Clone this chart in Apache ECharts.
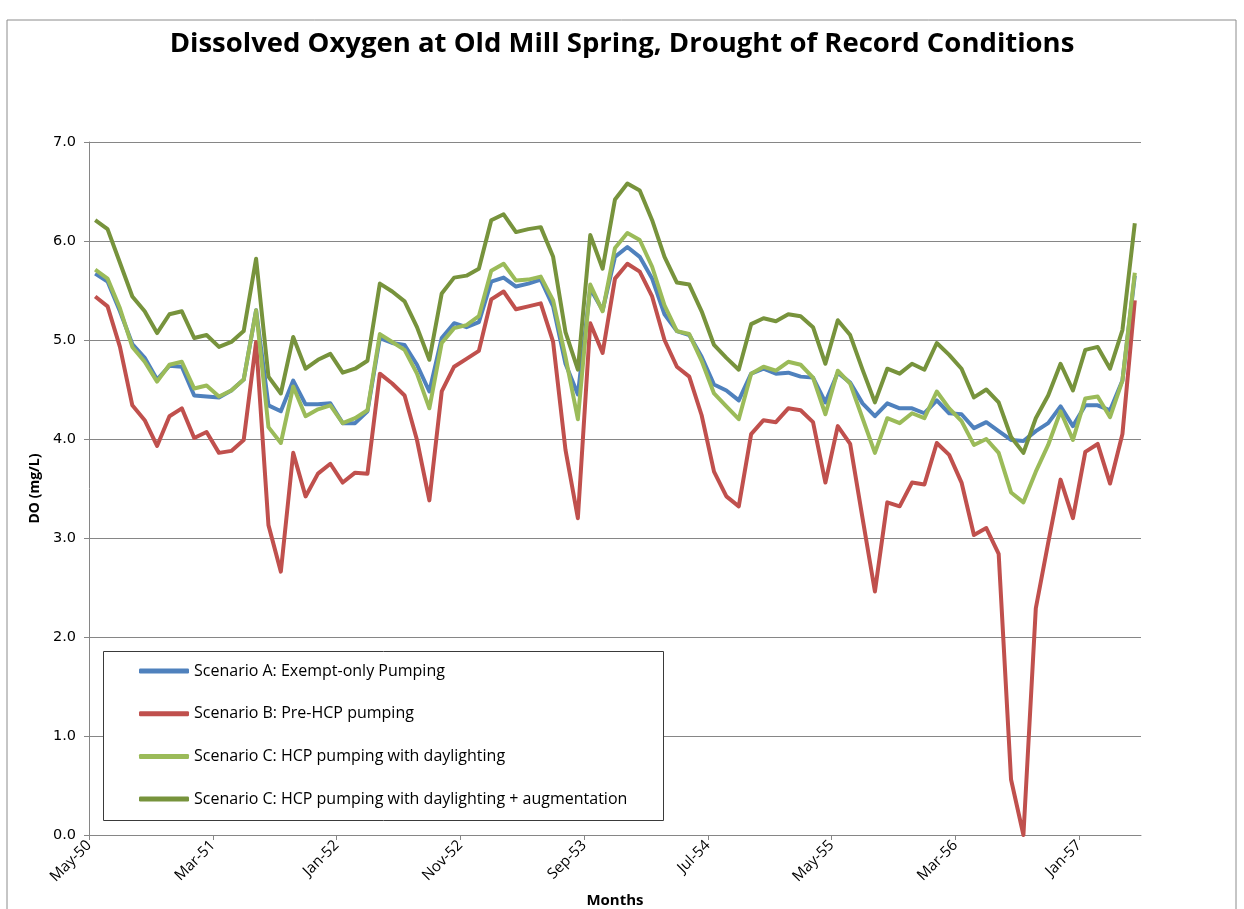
<!DOCTYPE html>
<html>
<head>
<meta charset="utf-8">
<title>Dissolved Oxygen at Old Mill Spring</title>
<script src="https://cdn.jsdelivr.net/npm/echarts@6/dist/echarts.min.js"></script>
<style>
  html, body { margin: 0; padding: 0; background: #fff; }
  #chart { width: 1244px; height: 909px; }
</style>
</head>
<body>
<div id="chart"></div>
<script>
// monthly DO values, May-50 .. May-57
const tickLabels = ['May-50', 'Mar-51', 'Jan-52', 'Nov-52', 'Sep-53', 'Jul-54', 'May-55', 'Mar-56', 'Jan-57'];

const scenarioA = [5.67, 5.59, 5.29, 4.96, 4.82, 4.60, 4.74, 4.73, 4.44, 4.43, 4.42, 4.49, 4.60, 5.30,
  4.34, 4.28, 4.59, 4.35, 4.35, 4.36, 4.16, 4.16, 4.28, 5.02, 4.97, 4.95, 4.75, 4.48,
  5.02, 5.17, 5.13, 5.18, 5.59, 5.63, 5.54, 5.57, 5.61, 5.34, 4.76, 4.45, 5.52, 5.30,
  5.84, 5.94, 5.84, 5.62, 5.26, 5.09, 5.05, 4.83, 4.55, 4.49, 4.39, 4.66, 4.71, 4.66,
  4.67, 4.63, 4.62, 4.37, 4.67, 4.57, 4.36, 4.23, 4.36, 4.31, 4.31, 4.26, 4.39, 4.26,
  4.25, 4.11, 4.17, 4.08, 3.99, 3.98, 4.08, 4.16, 4.33, 4.13, 4.34, 4.34, 4.29, 4.59, 5.65];

const scenarioB = [5.44, 5.34, 4.93, 4.34, 4.19, 3.93, 4.23, 4.31, 4.01, 4.07, 3.86, 3.88, 3.99, 4.98,
  3.13, 2.66, 3.86, 3.42, 3.65, 3.75, 3.56, 3.66, 3.65, 4.66, 4.56, 4.44, 3.99, 3.38,
  4.48, 4.73, 4.81, 4.89, 5.41, 5.49, 5.31, 5.34, 5.37, 4.98, 3.89, 3.20, 5.17, 4.87,
  5.62, 5.77, 5.69, 5.44, 5.00, 4.73, 4.63, 4.24, 3.67, 3.42, 3.32, 4.05, 4.19, 4.17,
  4.31, 4.29, 4.17, 3.56, 4.13, 3.95, 3.20, 2.46, 3.36, 3.32, 3.56, 3.54, 3.96, 3.84,
  3.56, 3.03, 3.10, 2.84, 0.56, 0.00, 2.29, 2.95, 3.59, 3.20, 3.87, 3.95, 3.55, 4.05, 5.40];

const scenarioC = [5.71, 5.62, 5.32, 4.93, 4.78, 4.58, 4.75, 4.78, 4.51, 4.54, 4.43, 4.49, 4.60, 5.30,
  4.12, 3.96, 4.53, 4.23, 4.30, 4.34, 4.16, 4.21, 4.29, 5.06, 4.98, 4.90, 4.66, 4.31,
  4.97, 5.12, 5.15, 5.24, 5.70, 5.77, 5.60, 5.61, 5.64, 5.40, 4.83, 4.20, 5.56, 5.29,
  5.93, 6.08, 6.01, 5.74, 5.35, 5.09, 5.06, 4.79, 4.46, 4.33, 4.20, 4.66, 4.73, 4.69,
  4.78, 4.75, 4.62, 4.25, 4.69, 4.56, 4.21, 3.86, 4.21, 4.16, 4.26, 4.21, 4.48, 4.31,
  4.18, 3.94, 4.00, 3.86, 3.46, 3.36, 3.67, 3.94, 4.28, 3.99, 4.41, 4.43, 4.22, 4.59, 5.68];

const scenarioD = [6.21, 6.12, 5.78, 5.44, 5.29, 5.07, 5.26, 5.29, 5.02, 5.05, 4.93, 4.98, 5.09, 5.82,
  4.63, 4.46, 5.03, 4.71, 4.80, 4.86, 4.67, 4.71, 4.79, 5.57, 5.49, 5.39, 5.13, 4.80,
  5.47, 5.63, 5.65, 5.72, 6.21, 6.27, 6.09, 6.12, 6.14, 5.84, 5.08, 4.70, 6.06, 5.72,
  6.42, 6.58, 6.51, 6.21, 5.84, 5.58, 5.56, 5.29, 4.95, 4.82, 4.70, 5.16, 5.22, 5.19,
  5.26, 5.24, 5.13, 4.76, 5.20, 5.05, 4.70, 4.37, 4.71, 4.66, 4.76, 4.70, 4.97, 4.85,
  4.71, 4.42, 4.50, 4.37, 4.02, 3.86, 4.21, 4.44, 4.76, 4.49, 4.90, 4.93, 4.71, 5.10, 6.18];

const seriesNames = [
  'Scenario A: Exempt-only Pumping',
  'Scenario B: Pre-HCP pumping',
  'Scenario C: HCP pumping with daylighting',
  'Scenario C: HCP pumping with daylighting + augmentation'
];
const colors = ['#4F81BD', '#C0504D', '#9BBB59', '#77933C'];

// points sit in the middle of each month (Excel "between tick marks")
const toPoints = arr => arr.map((v, i) => [i + 0.5, v]);

const chart = echarts.init(document.getElementById('chart'), null, { renderer: 'canvas' });

const option = {
  animation: false,
  backgroundColor: '#fff',
  title: {
    text: 'Dissolved Oxygen at Old Mill Spring, Drought of Record Conditions',
    left: 'center',
    top: 25,
    textStyle: { fontFamily: 'Open Sans', fontWeight: 'bold', fontSize: 27.5, color: '#000' }
  },
  grid: { left: 89, right: 103, top: 142, bottom: 74, outerBoundsMode: 'none', containLabel: false },
  legend: {
    orient: 'vertical',
    left: 134,
    top: 656,
    icon: 'roundRect',
    itemWidth: 50,
    itemHeight: 5,
    itemGap: 22.7,
    textStyle: { fontFamily: 'Open Sans', fontSize: 16, color: '#000', lineHeight: 20 },
    data: seriesNames,
    z: 5
  },
  xAxis: {
    type: 'value',
    min: 0,
    max: 85,
    interval: 10,
    name: 'Months',
    nameLocation: 'middle',
    nameGap: 58,
    nameTextStyle: { fontFamily: 'Open Sans', fontWeight: 'bold', fontSize: 15, color: '#000' },
    axisLine: { lineStyle: { color: '#868686', width: 1 } },
    axisTick: { show: true, length: 5, lineStyle: { color: '#868686' } },
    splitLine: { show: false },
    axisLabel: {
      rotate: 45,
      margin: 8,
      showMaxLabel: false,
      fontFamily: 'Open Sans',
      fontSize: 15,
      color: '#000',
      formatter: v => tickLabels[v / 10] || ''
    }
  },
  yAxis: {
    type: 'value',
    min: 0,
    max: 7,
    interval: 1,
    name: 'DO (mg/L)',
    nameLocation: 'middle',
    nameRotate: 90,
    nameGap: 44,
    nameTextStyle: { fontFamily: 'Open Sans', fontWeight: 'bold', fontSize: 14, color: '#000' },
    axisLine: { show: true, lineStyle: { color: '#868686', width: 1 } },
    axisTick: { show: true, length: 5, lineStyle: { color: '#868686' } },
    splitLine: { lineStyle: { color: '#868686', width: 1 } },
    axisLabel: {
      margin: 13,
      fontFamily: 'DejaVu Sans',
      fontSize: 14.5,
      color: '#000',
      formatter: v => v.toFixed(1)
    }
  },
  graphic: [
    {
      type: 'rect',
      shape: { x: 7, y: 20, width: 1229, height: 900 },
      style: { fill: 'none', stroke: '#8c8c8c', lineWidth: 1 },
      z: -1
    },
    {
      type: 'rect',
      shape: { x: 103.5, y: 651.5, width: 560, height: 169 },
      style: { fill: '#fff', stroke: '#3a3a3a', lineWidth: 1 },
      z: 3
    }
  ],
  series: [scenarioA, scenarioB, scenarioC, scenarioD].map((arr, i) => ({
    name: seriesNames[i],
    type: 'line',
    data: toPoints(arr),
    symbol: 'none',
    color: colors[i],
    lineStyle: { width: 4, color: colors[i], join: 'round' },
    z: 2 + i
  }))
};

chart.setOption(option);
</script>
</body>
</html>
